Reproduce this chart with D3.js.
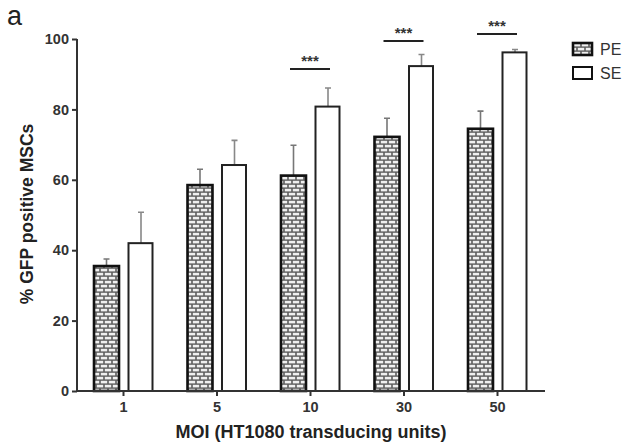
<!DOCTYPE html>
<html>
<head>
<meta charset="utf-8">
<script src="https://cdn.jsdelivr.net/npm/d3@7"></script>
<style>
  body { margin: 0; background: #fff; }
  svg { display: block; font-family: "Liberation Sans", Arial, sans-serif; }
</style>
</head>
<body>
<div id="chart"></div>
<script>
// data
const categories = ['1', '5', '10', '30', '50']
const series = ['PE', 'SE']
const peValues = [35.5, 58.5, 61.2, 72.2, 74.5]
const peErrors = [2.0, 4.5, 8.6, 5.3, 5.0]
const seValues = [42.0, 64.2, 80.8, 92.3, 96.2]
const seErrors = [8.8, 7.0, 5.3, 3.3, 0.8]
const yTicks = [0, 20, 40, 60, 80, 100]
// significance marks: category, bar y-value, label
const sigCats = ['10', '30', '50']
const sigLevels = [91.5, 99.4, 101.4]
const sigLabels = ['***', '***', '***']

const W = 629, H = 446
const margin = { top: 39, left: 77, right: 84, bottom: 55 }
const barW = 25

const svg = d3.select('#chart').append('svg').attr('width', W).attr('height', H)

// brick pattern for PE bars
const defs = svg.append('defs')
const pat = defs.append('pattern').attr('id', 'brick')
  .attr('patternUnits', 'userSpaceOnUse').attr('width', 8).attr('height', 8)
pat.append('rect').attr('width', 8).attr('height', 8).attr('fill', '#5e5e5e')
pat.append('rect').attr('x', 0.8).attr('y', 0.8).attr('width', 6.4).attr('height', 2.6).attr('fill', '#f0f0f0')
pat.append('rect').attr('x', -3.2).attr('y', 4.8).attr('width', 6.4).attr('height', 2.6).attr('fill', '#f0f0f0')
pat.append('rect').attr('x', 4.8).attr('y', 4.8).attr('width', 6.4).attr('height', 2.6).attr('fill', '#f0f0f0')

const x = d3.scalePoint().domain(categories).range([margin.left + 46, margin.left + 420])
const y = d3.scaleLinear().domain([0, 100]).range([H - margin.bottom, margin.top])

const g = svg.append('g')

// error bars (behind bars)
function errBars (vals, errs, dx, color) {
  g.selectAll(null).data(categories).enter().append('path')
    .attr('d', (d, i) => {
      const cx = x(d) + dx, y0 = y(vals[i]), y1 = y(vals[i] + errs[i])
      return `M${cx},${y0}V${y1}M${cx - 3},${y1}H${cx + 3}`
    })
    .attr('stroke', color).attr('stroke-width', 1.6).attr('fill', 'none')
}
errBars(peValues, peErrors, -16.5, '#777')
errBars(seValues, seErrors, 18, '#888')

// PE bars
g.selectAll('.pe').data(categories).enter().append('rect').classed('pe', true)
  .attr('x', d => x(d) - 16.5 - barW / 2).attr('width', barW)
  .attr('y', (d, i) => y(peValues[i])).attr('height', (d, i) => y(0) - y(peValues[i]))
  .attr('fill', 'url(#brick)').attr('stroke', '#111').attr('stroke-width', 2.6)

// SE bars
g.selectAll('.se').data(categories).enter().append('rect').classed('se', true)
  .attr('x', d => x(d) + 18 - barW / 2).attr('width', barW - 1)
  .attr('y', (d, i) => y(seValues[i])).attr('height', (d, i) => y(0) - y(seValues[i]))
  .attr('fill', '#fff').attr('stroke', '#222').attr('stroke-width', 2)

// significance lines
sigCats.forEach((c, i) => {
  svg.append('line')
    .attr('x1', x(c) - 20).attr('x2', x(c) + 20)
    .attr('y1', y(sigLevels[i])).attr('y2', y(sigLevels[i]))
    .attr('stroke', '#222').attr('stroke-width', 2)
  svg.append('text').text(sigLabels[i])
    .attr('x', x(c)).attr('y', y(sigLevels[i]) - 3)
    .attr('text-anchor', 'middle').attr('font-size', 15).attr('font-weight', 'bold').attr('fill', '#333')
})

// axes
const yAxis = d3.axisLeft(y).tickValues(yTicks).tickSize(5).tickPadding(3)
const yG = svg.append('g').attr('transform', `translate(${margin.left},0)`).call(yAxis)
const xAxis = d3.axisBottom(x).tickSize(5).tickPadding(6)
const xG = svg.append('g').attr('transform', `translate(0,${y(0)})`).call(xAxis)
xG.select('.domain').attr('d', `M${margin.left},0H${W - margin.right}`)
yG.select('.domain').attr('d', `M0,${y(0)}V${y(100)}`)
;[xG, yG].forEach(a => {
  a.selectAll('.domain').attr('stroke', '#333').attr('stroke-width', 2)
  a.selectAll('.tick line').attr('stroke', '#333').attr('stroke-width', 2)
  a.selectAll('.tick text').attr('font-size', 14.5).attr('font-weight', 'bold').attr('fill', '#333')
    .attr('font-family', '"Liberation Sans", Arial, sans-serif')
})

// axis titles
svg.append('text').text('MOI (HT1080 transducing units)')
  .attr('x', 311).attr('y', 438).attr('text-anchor', 'middle')
  .attr('font-size', 18).attr('font-weight', 'bold').attr('fill', '#222')
svg.append('text').text('% GFP positive MSCs')
  .attr('transform', 'translate(33,214) rotate(-90)').attr('text-anchor', 'middle')
  .attr('font-size', 17.5).attr('font-weight', 'bold').attr('fill', '#222')

// panel letter
svg.append('text').text('a').attr('x', 7).attr('y', 25)
  .attr('font-size', 27).attr('fill', '#222')

// legend
const lg = svg.append('g').attr('transform', 'translate(573,43)')
series.forEach((s, i) => {
  lg.append('rect').attr('x', 0).attr('y', i * 24).attr('width', 19).attr('height', 12)
    .attr('fill', i === 0 ? 'url(#brick)' : '#fff')
    .attr('stroke', '#111').attr('stroke-width', i === 0 ? 2.6 : 2)
  lg.append('text').text(s).attr('x', 27).attr('y', i * 24 + 12)
    .attr('font-size', 16).attr('fill', '#333')
})
</script>
</body>
</html>
